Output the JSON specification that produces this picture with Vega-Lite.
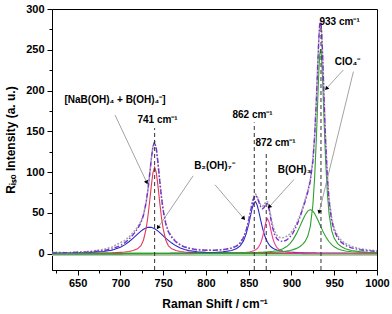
{
 "$schema": "https://vega.github.io/schema/vega-lite/v6.json",
 "width": 325, "height": 261,
 "autosize": {"type": "none"},
 "padding": {"left": 52, "top": 9, "right": 15, "bottom": 44},
 "background": "white",
 "config": {
  "view": {"stroke": "black", "strokeWidth": 1},
  "axis": {"grid": false, "domainColor": "black", "tickColor": "black", "labelColor": "black", "titleColor": "black", "labelFont": "Liberation Sans", "titleFont": "Liberation Sans", "labelFontWeight": "bold", "titleFontWeight": "bold", "labelFontSize": 11, "titleFontSize": 12, "domainWidth": 1, "tickWidth": 1, "labelOverlap": false, "labelBound": false, "labelFlush": false},
  "text": {"font": "Liberation Sans"}
 },
 "resolve": {"axis": {"x": "independent", "y": "independent"}},
 "datasets": {
  "spec": [
   {"x":620,"r":0.18,"b1":0.58,"b2":0.06,"p":0.03,"g1":0.07,"g2":0.05,"fit":0.97,"obs":1.8},
   {"x":640,"r":0.26,"b1":0.84,"b2":0.07,"p":0.03,"g1":0.08,"g2":0.06,"fit":1.34,"obs":1.2},
   {"x":660,"r":0.4,"b1":1.3,"b2":0.08,"p":0.04,"g1":0.09,"g2":0.07,"fit":1.98,"obs":2.4},
   {"x":680,"r":0.71,"b1":2.6,"b2":0.1,"p":0.05,"g1":0.11,"g2":0.08,"fit":3.65,"obs":5.0},
   {"x":690,"r":1.0,"b1":4.3,"b2":0.11,"p":0.05,"g1":0.12,"g2":0.09,"fit":5.67,"obs":8.0},
   {"x":700,"r":1.6,"b1":7.9,"b2":0.13,"p":0.06,"g1":0.13,"g2":0.1,"fit":9.92,"obs":13.5},
   {"x":705,"r":2.0,"b1":10.8,"b2":0.14,"p":0.06,"g1":0.14,"g2":0.1,"fit":13.24,"obs":16.0},
   {"x":710,"r":2.7,"b1":14.6,"b2":0.15,"p":0.06,"g1":0.14,"g2":0.11,"fit":17.76,"obs":20.5},
   {"x":715,"r":3.9,"b1":19.0,"b2":0.16,"p":0.07,"g1":0.15,"g2":0.11,"fit":23.39,"obs":26.0},
   {"x":720,"r":6.0,"b1":23.9,"b2":0.17,"p":0.07,"g1":0.15,"g2":0.12,"fit":30.41,"obs":32.5},
   {"x":724,"r":9.9,"b1":27.6,"b2":0.18,"p":0.07,"g1":0.16,"g2":0.12,"fit":38.03,"obs":39.5},
   {"x":727,"r":16.8,"b1":29.9,"b2":0.19,"p":0.07,"g1":0.16,"g2":0.13,"fit":47.25,"obs":48.0},
   {"x":730,"r":30.4,"b1":31.6,"b2":0.2,"p":0.07,"g1":0.17,"g2":0.13,"fit":62.57,"obs":62.0},
   {"x":732,"r":44.4,"b1":32.3,"b2":0.2,"p":0.07,"g1":0.17,"g2":0.13,"fit":77.27,"obs":76.5},
   {"x":734,"r":62.4,"b1":32.5,"b2":0.21,"p":0.07,"g1":0.17,"g2":0.13,"fit":95.48,"obs":95.0},
   {"x":736,"r":82.2,"b1":32.3,"b2":0.22,"p":0.07,"g1":0.17,"g2":0.13,"fit":115.09,"obs":115.5},
   {"x":738,"r":99.1,"b1":31.6,"b2":0.22,"p":0.07,"g1":0.18,"g2":0.14,"fit":131.31,"obs":131.5},
   {"x":740,"r":106,"b1":30.6,"b2":0.23,"p":0.06,"g1":0.18,"g2":0.14,"fit":137.21,"obs":136.5},
   {"x":742,"r":99.1,"b1":29.2,"b2":0.24,"p":0.06,"g1":0.18,"g2":0.14,"fit":128.92,"obs":128.0},
   {"x":744,"r":82.2,"b1":27.6,"b2":0.25,"p":0.07,"g1":0.18,"g2":0.14,"fit":110.44,"obs":110.0},
   {"x":746,"r":62.4,"b1":25.8,"b2":0.26,"p":0.07,"g1":0.19,"g2":0.15,"fit":88.87,"obs":89.5},
   {"x":748,"r":44.4,"b1":23.9,"b2":0.27,"p":0.07,"g1":0.19,"g2":0.15,"fit":68.98,"obs":70.0},
   {"x":750,"r":30.4,"b1":21.9,"b2":0.28,"p":0.07,"g1":0.19,"g2":0.15,"fit":52.99,"obs":54.0},
   {"x":753,"r":16.8,"b1":19.0,"b2":0.3,"p":0.08,"g1":0.2,"g2":0.16,"fit":36.54,"obs":38.0},
   {"x":756,"r":9.9,"b1":16.3,"b2":0.32,"p":0.08,"g1":0.2,"g2":0.16,"fit":26.96,"obs":28.0},
   {"x":760,"r":6.0,"b1":13.0,"b2":0.34,"p":0.08,"g1":0.23,"g2":0.18,"fit":19.83,"obs":21.0},
   {"x":765,"r":3.9,"b1":9.6,"b2":0.37,"p":0.09,"g1":0.24,"g2":0.19,"fit":14.39,"obs":15.0},
   {"x":770,"r":2.7,"b1":7.0,"b2":0.42,"p":0.1,"g1":0.26,"g2":0.2,"fit":10.68,"obs":11.0},
   {"x":775,"r":2.0,"b1":5.1,"b2":0.47,"p":0.11,"g1":0.28,"g2":0.21,"fit":8.17,"obs":8.5},
   {"x":780,"r":1.6,"b1":3.8,"b2":0.53,"p":0.13,"g1":0.3,"g2":0.23,"fit":6.59,"obs":7.0},
   {"x":790,"r":1.0,"b1":2.3,"b2":0.7,"p":0.17,"g1":0.35,"g2":0.26,"fit":4.78,"obs":5.0},
   {"x":800,"r":0.71,"b1":1.66,"b2":0.96,"p":0.21,"g1":0.4,"g2":0.3,"fit":4.24,"obs":4.5},
   {"x":810,"r":0.52,"b1":1.26,"b2":1.4,"p":0.28,"g1":0.48,"g2":0.35,"fit":4.29,"obs":4.0},
   {"x":820,"r":0.4,"b1":1.0,"b2":2.2,"p":0.4,"g1":0.57,"g2":0.41,"fit":4.98,"obs":5.0},
   {"x":830,"r":0.32,"b1":0.81,"b2":3.9,"p":0.58,"g1":0.7,"g2":0.49,"fit":6.8,"obs":7.0},
   {"x":836,"r":0.28,"b1":0.72,"b2":6.3,"p":0.8,"g1":0.8,"g2":0.55,"fit":9.45,"obs":9.5},
   {"x":840,"r":0.26,"b1":0.67,"b2":9.6,"p":1.0,"g1":0.87,"g2":0.6,"fit":13.0,"obs":13.5},
   {"x":844,"r":0.25,"b1":0.63,"b2":16.0,"p":1.3,"g1":0.96,"g2":0.65,"fit":19.79,"obs":20.5},
   {"x":847,"r":0.24,"b1":0.6,"b2":24.4,"p":1.6,"g1":1.03,"g2":0.7,"fit":28.57,"obs":29.0},
   {"x":850,"r":0.23,"b1":0.57,"b2":36.4,"p":2.0,"g1":1.13,"g2":0.75,"fit":41.08,"obs":41.5},
   {"x":852,"r":0.22,"b1":0.55,"b2":45.9,"p":2.4,"g1":1.19,"g2":0.79,"fit":51.05,"obs":52.0},
   {"x":854,"r":0.22,"b1":0.54,"b2":55.4,"p":2.9,"g1":1.25,"g2":0.83,"fit":61.14,"obs":62.5},
   {"x":856,"r":0.22,"b1":0.52,"b2":62.3,"p":3.6,"g1":1.32,"g2":0.87,"fit":68.83,"obs":70.5},
   {"x":858,"r":0.22,"b1":0.51,"b2":63.8,"p":4.7,"g1":1.4,"g2":0.92,"fit":71.55,"obs":73.0},
   {"x":860,"r":0.2,"b1":0.5,"b2":59.3,"p":6.3,"g1":1.5,"g2":0.97,"fit":68.77,"obs":70.0},
   {"x":862,"r":0.2,"b1":0.48,"b2":50.8,"p":8.9,"g1":1.6,"g2":1.02,"fit":63.0,"obs":64.5},
   {"x":864,"r":0.2,"b1":0.47,"b2":41.1,"p":13.0,"g1":1.7,"g2":1.08,"fit":57.55,"obs":60.0},
   {"x":866,"r":0.2,"b1":0.46,"b2":32.0,"p":19.5,"g1":1.8,"g2":1.14,"fit":55.1,"obs":58.5},
   {"x":868,"r":0.2,"b1":0.45,"b2":24.4,"p":28.5,"g1":1.95,"g2":1.21,"fit":56.71,"obs":59.5},
   {"x":870,"r":0.2,"b1":0.44,"b2":18.4,"p":38.2,"g1":2.1,"g2":1.29,"fit":60.63,"obs":64.0},
   {"x":872,"r":0.18,"b1":0.43,"b2":14.0,"p":43.0,"g1":2.2,"g2":1.37,"fit":61.18,"obs":63.5},
   {"x":874,"r":0.18,"b1":0.42,"b2":10.8,"p":38.2,"g1":2.4,"g2":1.46,"fit":53.46,"obs":56.0},
   {"x":876,"r":0.18,"b1":0.41,"b2":8.5,"p":28.5,"g1":2.7,"g2":1.56,"fit":41.85,"obs":45.0},
   {"x":878,"r":0.18,"b1":0.4,"b2":6.9,"p":19.5,"g1":2.9,"g2":1.7,"fit":31.58,"obs":35.0},
   {"x":880,"r":0.18,"b1":0.39,"b2":5.7,"p":13.0,"g1":3.2,"g2":1.8,"fit":24.27,"obs":28.0},
   {"x":883,"r":0.18,"b1":0.37,"b2":4.5,"p":7.4,"g1":3.7,"g2":2.0,"fit":18.15,"obs":22.5},
   {"x":886,"r":0.18,"b1":0.36,"b2":3.7,"p":4.7,"g1":4.5,"g2":2.3,"fit":15.74,"obs":20.0},
   {"x":890,"r":0.15,"b1":0.34,"b2":2.9,"p":2.9,"g1":6.0,"g2":2.7,"fit":14.99,"obs":19.5},
   {"x":894,"r":0.15,"b1":0.32,"b2":2.3,"p":2.0,"g1":8.4,"g2":3.3,"fit":16.47,"obs":21.0},
   {"x":898,"r":0.15,"b1":0.3,"b2":1.9,"p":1.47,"g1":12.1,"g2":4.0,"fit":19.92,"obs":24.0},
   {"x":902,"r":0.15,"b1":0.29,"b2":1.6,"p":1.12,"g1":17.6,"g2":5.0,"fit":25.76,"obs":29.5},
   {"x":906,"r":0.15,"b1":0.28,"b2":1.35,"p":0.88,"g1":24.9,"g2":6.5,"fit":34.06,"obs":37.0},
   {"x":910,"r":0.15,"b1":0.27,"b2":1.15,"p":0.71,"g1":33.8,"g2":8.8,"fit":44.88,"obs":47.0},
   {"x":913,"r":0.13,"b1":0.26,"b2":1.05,"p":0.61,"g1":40.9,"g2":11.3,"fit":54.25,"obs":56.0},
   {"x":916,"r":0.13,"b1":0.26,"b2":0.93,"p":0.53,"g1":47.4,"g2":15.0,"fit":64.25,"obs":66.0},
   {"x":919,"r":0.13,"b1":0.25,"b2":0.85,"p":0.47,"g1":52.2,"g2":21.3,"fit":75.2,"obs":77.0},
   {"x":922,"r":0.13,"b1":0.25,"b2":0.77,"p":0.42,"g1":54.0,"g2":33.3,"fit":88.87,"obs":91.0},
   {"x":925,"r":0.13,"b1":0.24,"b2":0.72,"p":0.38,"g1":52.2,"g2":59.5,"fit":113.17,"obs":115.0},
   {"x":927,"r":0.13,"b1":0.24,"b2":0.68,"p":0.36,"g1":49.3,"g2":91.5,"fit":142.21,"obs":143.0},
   {"x":929,"r":0.13,"b1":0.23,"b2":0.64,"p":0.34,"g1":45.4,"g2":138.6,"fit":185.34,"obs":186.0},
   {"x":930,"r":0.13,"b1":0.23,"b2":0.61,"p":0.32,"g1":43.2,"g2":167.1,"fit":211.59,"obs":212.0},
   {"x":931,"r":0.13,"b1":0.23,"b2":0.6,"p":0.31,"g1":40.9,"g2":196.7,"fit":238.87,"obs":239.0},
   {"x":932,"r":0.13,"b1":0.23,"b2":0.59,"p":0.3,"g1":38.5,"g2":223.9,"fit":263.65,"obs":263.5},
   {"x":933,"r":0.13,"b1":0.22,"b2":0.57,"p":0.3,"g1":36.1,"g2":243.6,"fit":280.92,"obs":280.0},
   {"x":934,"r":0.13,"b1":0.22,"b2":0.56,"p":0.3,"g1":33.8,"g2":251.0,"fit":286.01,"obs":284.0},
   {"x":935,"r":0.13,"b1":0.22,"b2":0.55,"p":0.3,"g1":31.4,"g2":243.6,"fit":276.2,"obs":275.0},
   {"x":936,"r":0.13,"b1":0.22,"b2":0.54,"p":0.28,"g1":29.2,"g2":223.9,"fit":254.27,"obs":254.0},
   {"x":937,"r":0.13,"b1":0.22,"b2":0.53,"p":0.28,"g1":27.0,"g2":196.7,"fit":224.86,"obs":226.0},
   {"x":938,"r":0.13,"b1":0.22,"b2":0.52,"p":0.27,"g1":24.9,"g2":167.1,"fit":193.14,"obs":195.0},
   {"x":939,"r":0.13,"b1":0.22,"b2":0.51,"p":0.27,"g1":22.9,"g2":138.6,"fit":162.63,"obs":165.0},
   {"x":940,"r":0.13,"b1":0.21,"b2":0.5,"p":0.27,"g1":21.0,"g2":113.2,"fit":135.31,"obs":138.0},
   {"x":942,"r":0.12,"b1":0.21,"b2":0.48,"p":0.23,"g1":17.6,"g2":73.7,"fit":92.34,"obs":95.0},
   {"x":944,"r":0.12,"b1":0.21,"b2":0.47,"p":0.23,"g1":14.6,"g2":48.4,"fit":64.03,"obs":67.0},
   {"x":947,"r":0.12,"b1":0.2,"b2":0.44,"p":0.23,"g1":11.1,"g2":28.2,"fit":40.29,"obs":43.5},
   {"x":950,"r":0.12,"b1":0.2,"b2":0.42,"p":0.23,"g1":8.4,"g2":18.8,"fit":28.17,"obs":31.0},
   {"x":954,"r":0.12,"b1":0.2,"b2":0.39,"p":0.18,"g1":6.0,"g2":12.4,"fit":19.29,"obs":22.0},
   {"x":958,"r":0.12,"b1":0.19,"b2":0.37,"p":0.18,"g1":4.5,"g2":8.8,"fit":14.16,"obs":16.5},
   {"x":963,"r":0.12,"b1":0.19,"b2":0.34,"p":0.18,"g1":3.3,"g2":6.1,"fit":10.23,"obs":12.5},
   {"x":970,"r":0.12,"b1":0.18,"b2":0.31,"p":0.15,"g1":2.4,"g2":4.0,"fit":7.16,"obs":9.0},
   {"x":980,"r":0.1,"b1":0.17,"b2":0.27,"p":0.12,"g1":1.7,"g2":2.5,"fit":4.86,"obs":6.0},
   {"x":990,"r":0.1,"b1":0.16,"b2":0.24,"p":0.1,"g1":1.25,"g2":1.7,"fit":3.55,"obs":4.5},
   {"x":1000,"r":0.1,"b1":0.15,"b2":0.21,"p":0.07,"g1":0.96,"g2":1.21,"fit":2.7,"obs":3.5}
  ],
  "vlines": [
   {"x":740,"y":-20,"y2":154},
   {"x":856.5,"y":-20,"y2":161},
   {"x":870.5,"y":-20,"y2":124},
   {"x":934.5,"y":-20,"y2":280}
  ],
  "arrows": [
   {"x":693.7,"y":170,"x2":730.5,"y2":88,"ang":155},
   {"x":785,"y":95.5,"x2":744.3,"y2":32.5,"ang":214},
   {"x":810.6,"y":84.5,"x2":843.8,"y2":43.7,"ang":140},
   {"x":903,"y":91,"x2":874.5,"y2":58,"ang":224},
   {"x":960.7,"y":225.3,"x2":941.3,"y2":203,"ang":222},
   {"x":972.4,"y":223.2,"x2":932.6,"y2":51.8,"ang":194}
  ],
  "labels": [
   {"x":693.7,"y":188.6,"t":"[NaB(OH)₄ + B(OH)₄⁻]"},
   {"x":743.4,"y":164,"t":"741 cm⁻¹"},
   {"x":810,"y":107,"t":"B₂(OH)₇⁻"},
   {"x":854.5,"y":170,"t":"862 cm⁻¹"},
   {"x":881.4,"y":136,"t":"872 cm⁻¹"},
   {"x":903.6,"y":103,"t":"B(OH)₃"},
   {"x":956.3,"y":284,"t":"933 cm⁻¹"},
   {"x":965.6,"y":235,"t":"ClO₄⁻"}
  ]
 },
 "layer": [
  {
   "data": {"name": "spec"},
   "mark": {"type": "rule", "color": "#9fd89f", "strokeWidth": 3},
   "encoding": {
    "x": {"datum": 620, "type": "quantitative", "scale": {"domain": [620, 1000], "nice": false, "zero": false},
      "axis": {"title": "Raman Shift / cm⁻¹", "orient": "bottom", "values": [650,700,750,800,850,900,950,1000], "format": "d",
        "tickSize": 5, "labelPadding": 2, "titlePadding": 10}},
    "x2": {"datum": 1000},
    "y": {"datum": 0, "type": "quantitative", "scale": {"domain": [-20, 300], "nice": false, "zero": false},
      "axis": {"title": "Rᵢₛₒ Intensity (a. u.)", "orient": "left", "values": [0,50,100,150,200,250,300], "format": "d",
        "tickSize": 5, "labelPadding": 3, "titlePadding": 8}}
   }
  },
  {
   "data": {"name": "spec"},
   "mark": {"type": "point", "opacity": 0},
   "encoding": {
    "x": {"field": "x", "type": "quantitative",
      "axis": {"title": null, "orient": "bottom", "values": [625,675,725,775,825,875,925,975], "tickSize": 3, "labels": false, "domain": false}},
    "y": {"field": "obs", "type": "quantitative",
      "axis": {"title": null, "orient": "left", "values": [25,75,125,175,225,275], "tickSize": 3, "labels": false, "domain": false}}
   }
  },
  {"data": {"name": "spec"}, "mark": {"type": "line", "color": "#2a2ac4", "strokeWidth": 1.1, "clip": true},
   "encoding": {"x": {"field": "x", "type": "quantitative", "axis": null}, "y": {"field": "b1", "type": "quantitative", "axis": null}}},
  {"data": {"name": "spec"}, "mark": {"type": "line", "color": "#e23a55", "strokeWidth": 1.1, "clip": true},
   "encoding": {"x": {"field": "x", "type": "quantitative", "axis": null}, "y": {"field": "r", "type": "quantitative", "axis": null}}},
  {"data": {"name": "spec"}, "mark": {"type": "line", "color": "#2a2ac4", "strokeWidth": 1.1, "clip": true},
   "encoding": {"x": {"field": "x", "type": "quantitative", "axis": null}, "y": {"field": "b2", "type": "quantitative", "axis": null}}},
  {"data": {"name": "spec"}, "mark": {"type": "line", "color": "#f23c9a", "strokeWidth": 1.1, "clip": true},
   "encoding": {"x": {"field": "x", "type": "quantitative", "axis": null}, "y": {"field": "p", "type": "quantitative", "axis": null}}},
  {"data": {"name": "spec"}, "mark": {"type": "line", "color": "#2fa02f", "strokeWidth": 1.1, "clip": true},
   "encoding": {"x": {"field": "x", "type": "quantitative", "axis": null}, "y": {"field": "g1", "type": "quantitative", "axis": null}}},
  {"data": {"name": "spec"}, "mark": {"type": "line", "color": "#2fa02f", "strokeWidth": 1.1, "clip": true},
   "encoding": {"x": {"field": "x", "type": "quantitative", "axis": null}, "y": {"field": "g2", "type": "quantitative", "axis": null}}},
  {"data": {"name": "spec"}, "mark": {"type": "line", "color": "#a6a6a6", "strokeWidth": 1.6, "strokeDash": [2, 1.5], "clip": true},
   "encoding": {"x": {"field": "x", "type": "quantitative", "axis": null}, "y": {"field": "obs", "type": "quantitative", "axis": null}}},
  {"data": {"name": "spec"}, "mark": {"type": "line", "color": "#7b2fd0", "strokeWidth": 1.4, "strokeDash": [5, 2, 1.5, 2], "clip": true},
   "encoding": {"x": {"field": "x", "type": "quantitative", "axis": null}, "y": {"field": "fit", "type": "quantitative", "axis": null}}},
  {"data": {"name": "vlines"}, "mark": {"type": "rule", "color": "#333333", "strokeWidth": 1, "strokeDash": [4, 3]},
   "encoding": {"x": {"field": "x", "type": "quantitative", "axis": null}, "y": {"field": "y", "type": "quantitative", "axis": null}, "y2": {"field": "y2"}}},
  {"data": {"name": "arrows"}, "mark": {"type": "rule", "color": "#8c8c8c", "strokeWidth": 0.8},
   "encoding": {"x": {"field": "x", "type": "quantitative", "axis": null}, "y": {"field": "y", "type": "quantitative", "axis": null}, "x2": {"field": "x2"}, "y2": {"field": "y2"}}},
  {"data": {"name": "arrows"}, "mark": {"type": "point", "shape": "triangle", "filled": true, "color": "black", "size": 20, "opacity": 1},
   "encoding": {"x": {"field": "x2", "type": "quantitative", "axis": null}, "y": {"field": "y2", "type": "quantitative", "axis": null}, "angle": {"field": "ang", "type": "quantitative", "scale": null}}},
  {"data": {"name": "labels"}, "mark": {"type": "text", "font": "Liberation Sans", "fontWeight": "bold", "fontSize": 10, "color": "black", "align": "center", "baseline": "middle"},
   "encoding": {"x": {"field": "x", "type": "quantitative", "axis": null}, "y": {"field": "y", "type": "quantitative", "axis": null}, "text": {"field": "t"}}}
 ]
}
